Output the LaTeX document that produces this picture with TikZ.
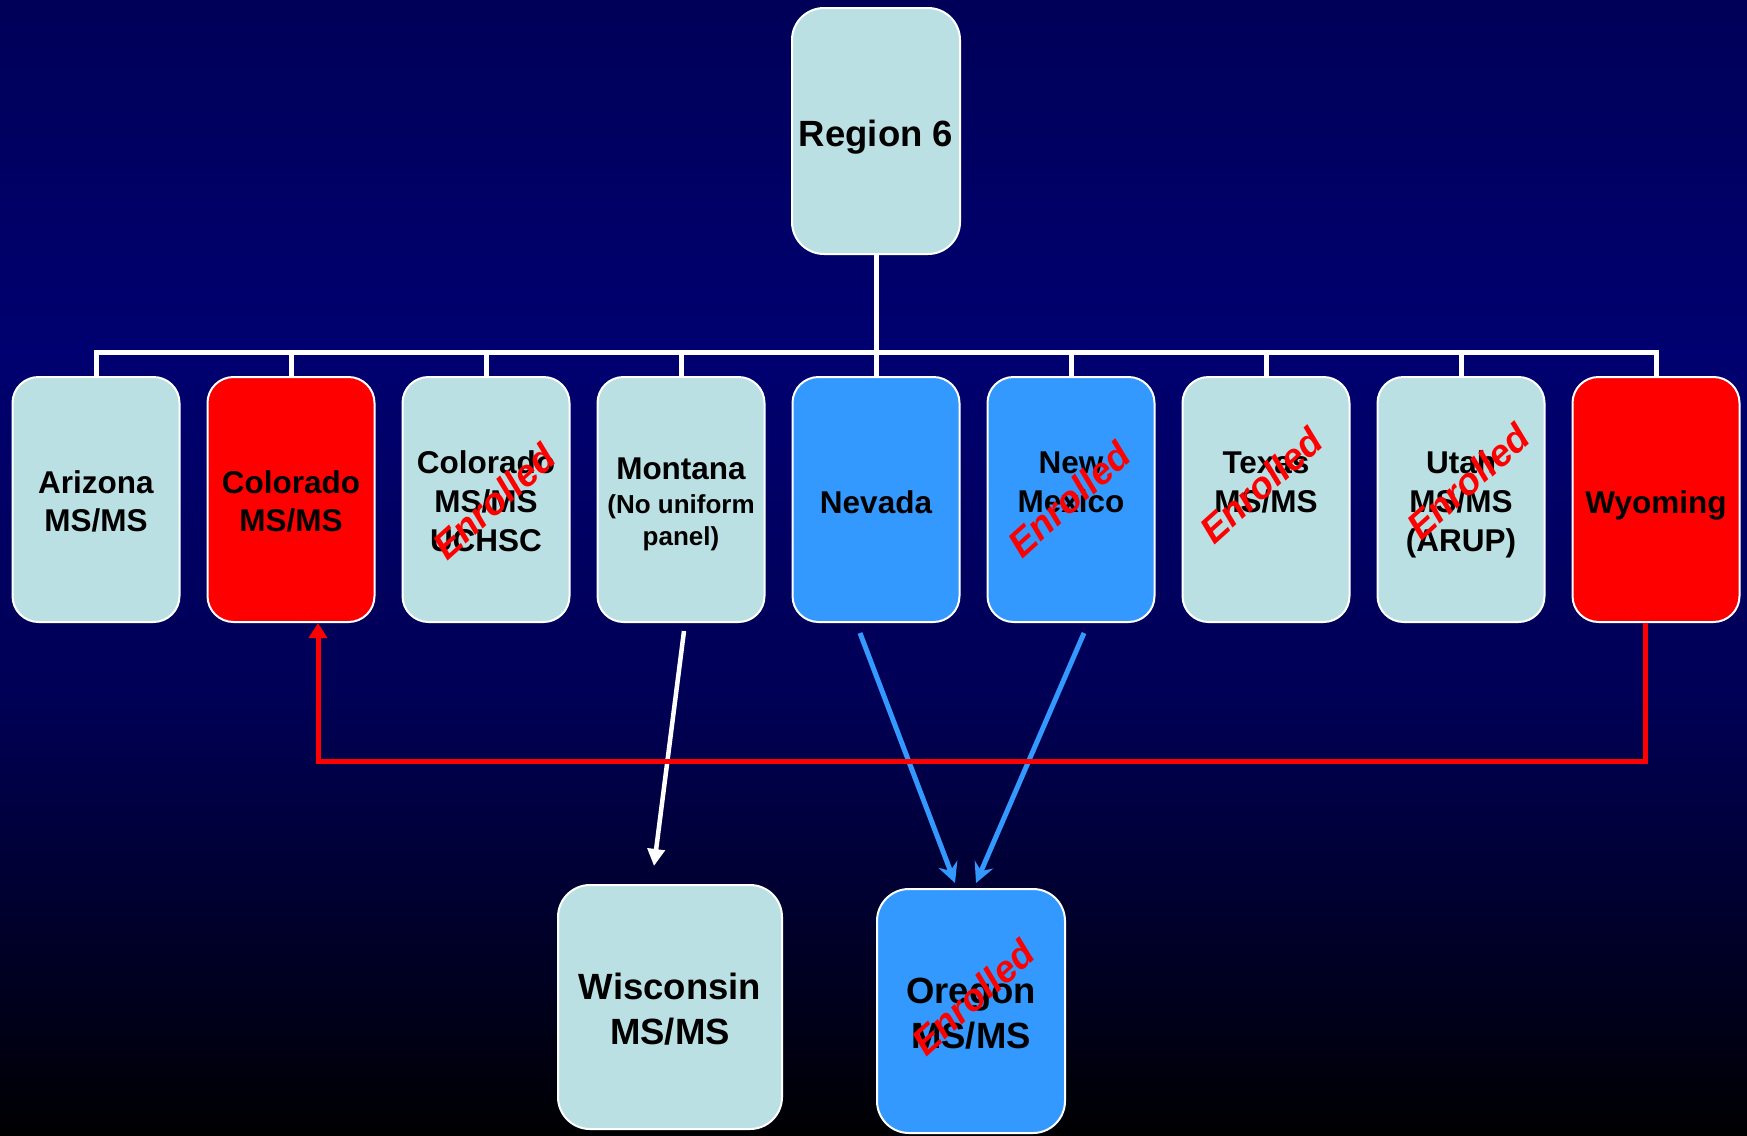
\documentclass[tikz,border=0pt]{standalone}
\usepackage{fontspec}
\setmainfont{Liberation Sans}
\usetikzlibrary{arrows.meta}
\definecolor{lb}{RGB}{187,224,227}
\definecolor{bl}{RGB}{51,153,255}
\definecolor{rd}{RGB}{255,0,0}
\definecolor{bgA}{RGB}{0,0,88}
\definecolor{bgB}{RGB}{0,0,112}
\definecolor{bgC}{RGB}{0,0,85}
\definecolor{bgD}{RGB}{0,0,48}
\definecolor{bgE}{RGB}{0,0,2}
\newcommand{\rowfont}{\fontsize{31.5}{38.8}\selectfont\bfseries}
\newcommand{\bigfont}{\fontsize{36.5}{45.5}\selectfont\bfseries}
\newcommand{\smfont}{\fontsize{26}{31}\selectfont\bfseries}
\newcommand{\topstrut}{\rule{0pt}{1.08em}}
\newcommand{\mls}{\rule{0pt}{1.04em}}
\newcommand{\botstrut}{\rule[-0.22em]{0pt}{0.22em}}
\tikzset{
  box/.style={draw=white, line width=2pt, rounded corners=26pt, align=center, text=black, inner sep=0pt,
    execute at begin node=\topstrut, execute at end node=\botstrut},
  rowbox/.style={box, minimum width=167pt, minimum height=245pt, font=\rowfont},
  bigbox/.style={box, rounded corners=32pt, font=\bigfont},
  busline/.style={draw=white, line width=5pt},
  enr/.style={text=rd, font=\fontsize{37.5}{42}\selectfont\bfseries\itshape, rotate=42, inner sep=0pt},
  warr/.style={draw=white, line width=4.5pt, -{Triangle[width=17pt,length=17pt]}},
  barr/.style={draw=bl, line width=5pt, -{Stealth[width=20pt,length=20pt,inset=7pt]}},
  rarr/.style={draw=rd, line width=5pt, -{Triangle[width=18pt,length=15pt]}},
}
\begin{document}
\begin{tikzpicture}[x=1pt,y=-1pt]
\shade[top color=bgA, bottom color=bgB] (0,0) rectangle (1747,351);
\shade[top color=bgB, bottom color=bgC] (0,350) rectangle (1747,701);
\shade[top color=bgC, bottom color=bgD] (0,700) rectangle (1747,901);
\shade[top color=bgD, bottom color=bgE] (0,900) rectangle (1747,1135);
\useasboundingbox (0,0) rectangle (1747,1135);

\node[bigbox, fill=lb, minimum width=168pt, minimum height=246pt] (r6) at (876,131) {Region 6};

\node[rowbox, fill=lb] (az) at (96,499.5) {\mls Arizona\\MS/MS};
\node[rowbox, fill=rd] (co) at (291,499.5) {\mls Colorado\\MS/MS};
\node[rowbox, fill=lb] (cu) at (486,499.5) {\mls Colorado\\MS/MS\\UCHSC};
\node[rowbox, fill=lb, execute at end node={\rule[-1pt]{0pt}{1pt}}] (mt) at (681,499.5)
  {\rule{0pt}{33pt}Montana\\[-5pt]{\smfont (No uniform}\\[-7.3pt]{\smfont panel)}};
\node[rowbox, fill=bl] (nv) at (876,499.5) {Nevada};
\node[rowbox, fill=bl] (nm) at (1071,499.5) {\mls New\\Mexico\\\phantom{M}};
\node[rowbox, fill=lb] (tx) at (1266,499.5) {\mls Texas\\MS/MS\\\phantom{M}};
\node[rowbox, fill=lb] (ut) at (1461,499.5) {\mls Utah\\MS/MS\\(ARUP)};
\node[rowbox, fill=rd] (wy) at (1656,499.5) {Wyoming};

\node[bigbox, fill=lb, minimum width=224pt, minimum height=244pt] (wi) at (670,1007) {\mls Wisconsin\\MS/MS};
\node[bigbox, fill=bl, minimum width=188pt, minimum height=244pt] (or) at (971,1011) {\mls Oregon\\MS/MS};

% bus
\coordinate (bus) at (876,352);
\draw[busline] (r6.south) -- (bus);
\draw[busline, line join=miter] (az.north) |- (wy.north |- bus) -- (wy.north);
\foreach \n in {co,cu,mt,nv,nm,tx,ut}{
  \draw[busline] (\n.north) -- (\n.north |- bus);
}

% connectors
\draw[warr] ([xshift=3pt,yshift=-8pt]mt.south) -- ([xshift=-16pt,yshift=18pt]wi.north);
\draw[barr] ([xshift=-16pt,yshift=-10pt]nv.south) -- ([xshift=-16pt,yshift=5pt]or.north);
\draw[barr] ([xshift=13pt,yshift=-10pt]nm.south) -- ([xshift=5pt,yshift=5pt]or.north);
\draw[rarr] ([xshift=-11pt]wy.south) -- ++(0,138) -| ([xshift=27pt]co.south);

% enrolled marks
\node[enr] (e1) at (494,501) {Enrolled};
\node[enr] (e2) at (1069,499) {Enrolled};
\node[enr] (e3) at (1261,485) {Enrolled};
\node[enr] (e4) at (1468,481) {Enrolled};
\node[enr] (e5) at (973,997) {Enrolled};
\end{tikzpicture}
\end{document}
